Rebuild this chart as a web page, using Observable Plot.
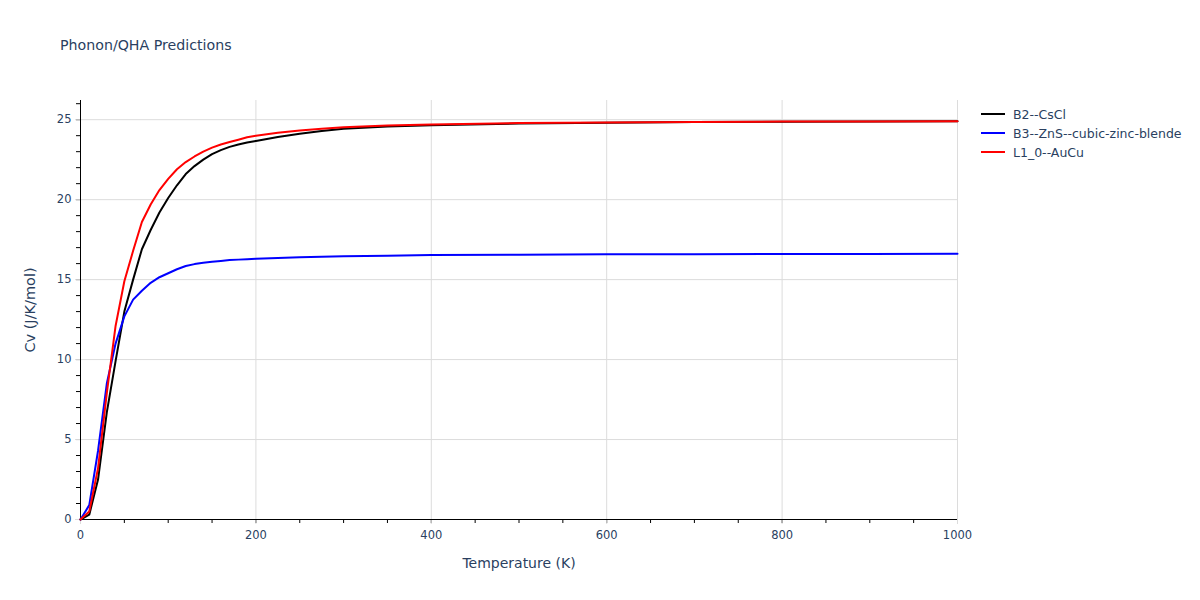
<!DOCTYPE html>
<html>
<head>
<meta charset="utf-8">
<script src="https://cdn.jsdelivr.net/npm/d3@7"></script>
<script src="https://cdn.jsdelivr.net/npm/@observablehq/plot@0.6"></script>
<style>
  html, body { margin: 0; padding: 0; background: #fff; }
  #wrap { position: relative; width: 1200px; height: 600px; font-family: "DejaVu Sans", "Open Sans", sans-serif; color: #2a3f5f; }
  #title { position: absolute; left: 60px; top: 35px; font-size: 14.2px; line-height: 20px; }
  #legend { position: absolute; left: 981px; top: 104.5px; font-size: 12.5px; }
  .row { display: flex; align-items: center; height: 19px; }
  .sw { width: 24px; height: 0; border-top: 2px solid; margin-right: 8px; }
</style>
</head>
<body>
<div id="wrap">
  <div id="chart"></div>
  <div id="title">Phonon/QHA Predictions</div>
  <div id="legend"></div>
</div>
<script>
const seriesNames = ["B2--CsCl", "B3--ZnS--cubic-zinc-blende", "L1_0--AuCu"];
const seriesColors = ["#000000", "#0000ff", "#ff0000"];
const temps = [0,10,20,30,40,50,60,70,80,90,100,110,120,130,140,150,160,170,180,190,200,225,250,275,300,350,400,500,600,700,800,900,1000];
const cvB2 = [0,0.3,2.5,6.7,9.9,13.0,15.0,16.9,18.1,19.2,20.1,20.9,21.6,22.1,22.5,22.85,23.1,23.3,23.45,23.57,23.67,23.92,24.12,24.3,24.43,24.57,24.66,24.76,24.81,24.85,24.87,24.89,24.9];
const cvB3 = [0,0.9,4.3,8.5,11.0,12.7,13.75,14.3,14.8,15.15,15.4,15.65,15.85,15.97,16.05,16.12,16.17,16.22,16.25,16.28,16.3,16.35,16.4,16.43,16.46,16.5,16.54,16.56,16.58,16.59,16.6,16.6,16.61];
const cvL10 = [0,0.5,3.2,7.9,12.1,14.9,16.8,18.6,19.7,20.6,21.3,21.9,22.35,22.7,23.0,23.25,23.45,23.6,23.75,23.9,24.0,24.18,24.33,24.43,24.52,24.63,24.7,24.79,24.83,24.86,24.88,24.89,24.9];
const xMajorTicks = [0,200,400,600,800,1000];
const yMajorTicks = [0,5,10,15,20,25];

const allSeries = [cvB2, cvB3, cvL10];
const rows = [];
allSeries.forEach((vals, i) => temps.forEach((t, j) => rows.push({series: seriesNames[i], T: t, cv: vals[j]})));

const gridColor = "#dcdcdc";
const textColor = "#2a3f5f";
const chart = Plot.plot({
  width: 1200,
  height: 600,
  marginLeft: 80,
  marginRight: 243,
  marginTop: 100,
  marginBottom: 81,
  style: {fontFamily: "'DejaVu Sans', 'Open Sans', sans-serif", fontSize: "11.5px", color: textColor, background: "#fff"},
  x: {domain: [0, 1000]},
  y: {domain: [0, 26.2]},
  color: {domain: seriesNames, range: seriesColors},
  marks: [
    Plot.gridX(xMajorTicks.filter(d => d > 0), {stroke: gridColor, strokeOpacity: 1}),
    Plot.gridY(yMajorTicks.filter(d => d > 0), {stroke: gridColor, strokeOpacity: 1}),
    Plot.axisX(d3.range(0, 1001, 50), {tickSize: 4, stroke: "#000", tickFormat: () => "", label: null}),
    Plot.axisX(xMajorTicks, {tickSize: 5, stroke: gridColor, tickPadding: 6, fill: textColor, tickFormat: d3.format("d"), label: null}),
    Plot.axisY(d3.range(0, 27, 1), {tickSize: 4, stroke: "#000", tickFormat: () => "", label: null}),
    Plot.axisY(yMajorTicks, {tickSize: 5, stroke: gridColor, tickPadding: 4, fill: textColor, tickFormat: d3.format("d"), label: null}),
    Plot.ruleX([0], {stroke: "#000", strokeWidth: 1}),
    Plot.ruleY([0], {stroke: "#000", strokeWidth: 1}),
    Plot.line(rows, {x: "T", y: "cv", z: "series", stroke: "series", strokeWidth: 2}),
    Plot.text(["Temperature (K)"], {frameAnchor: "bottom", lineAnchor: "middle", dy: 44, fontSize: 14, fill: textColor}),
    Plot.text(["Cv (J/K/mol)"], {frameAnchor: "left", textAnchor: "middle", lineAnchor: "middle", dx: -50, rotate: -90, fontSize: 14.5, fill: textColor})
  ]
});
document.getElementById("chart").appendChild(chart);

const legend = document.getElementById("legend");
seriesNames.forEach((name, i) => {
  const row = document.createElement("div");
  row.className = "row";
  const sw = document.createElement("div");
  sw.className = "sw";
  sw.style.borderTopColor = seriesColors[i];
  const label = document.createElement("span");
  label.textContent = name;
  row.appendChild(sw);
  row.appendChild(label);
  legend.appendChild(row);
});
</script>
</body>
</html>
